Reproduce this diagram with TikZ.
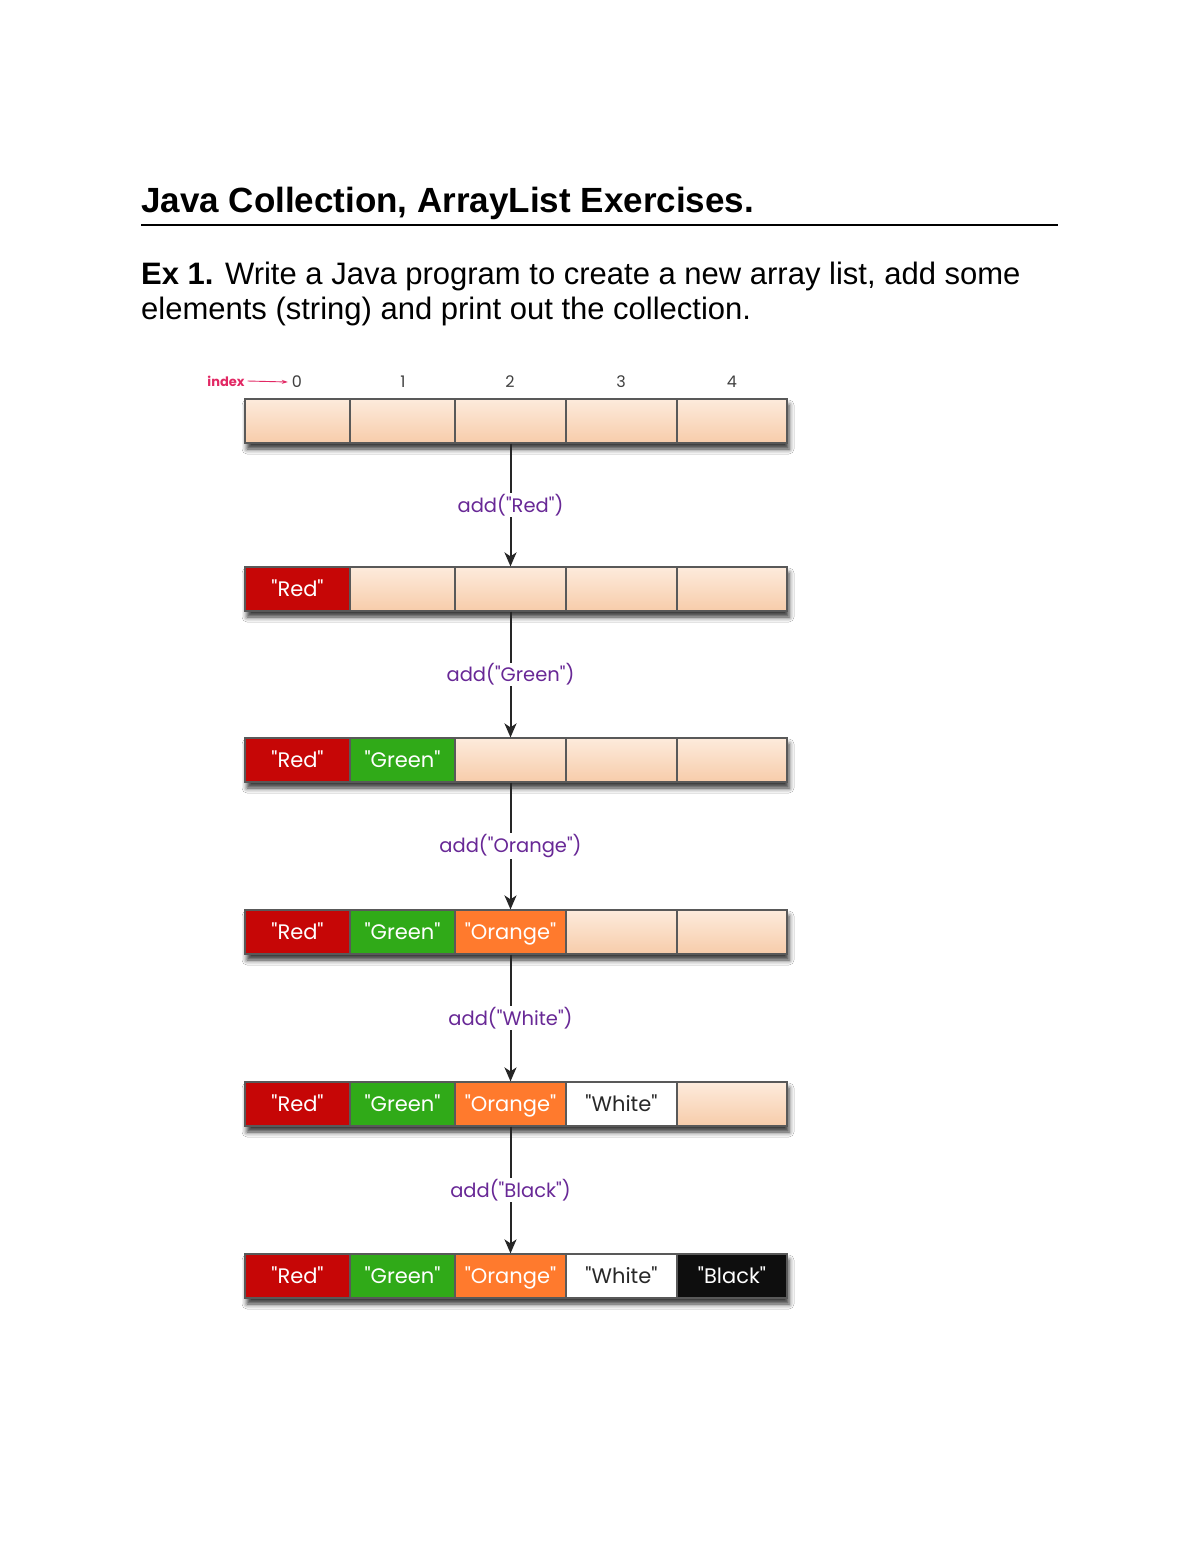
\documentclass[tikz,border=0pt]{standalone}
\usepackage{fontspec}
\setmainfont{Liberation Sans}
\newfontfamily\diag{Poppins}
\usetikzlibrary{arrows.meta,shadows.blur}
\definecolor{cellred}{RGB}{198,6,6}
\definecolor{cellgreen}{RGB}{48,170,24}
\definecolor{cellorange}{RGB}{255,122,45}
\definecolor{cellwhite}{RGB}{255,255,255}
\definecolor{cellblack}{RGB}{14,14,14}
\definecolor{creamtop}{RGB}{253,235,220}
\definecolor{creambot}{RGB}{247,204,170}
\definecolor{lblpurple}{RGB}{104,40,150}
\definecolor{idxpink}{RGB}{226,40,100}
\definecolor{wtxt}{RGB}{40,40,40}
\begin{document}
\begin{tikzpicture}[x=1pt,y=-1pt,
  txt/.style={inner sep=0pt,anchor=base west},
  cell/.style={draw=black!65,line width=1.2pt,minimum height=44pt,inner sep=0pt,
    text height=17pt,text depth=2pt,
    font=\diag\fontsize{21}{24}\selectfont},
  conn/.style={draw=black!85,line width=2pt,-{Stealth[length=14pt,width=12pt,inset=4pt]}},
  lbl/.style={fill=white,inner sep=1pt,text=lblpurple,font=\diag\fontsize{19.5}{22}\selectfont},
  idx/.style={inner sep=0pt,text=black!75,font=\diag\fontsize{16}{18}\selectfont},
  rowshadow/.style={blur shadow={shadow xshift=2pt,shadow yshift=-6pt,shadow blur radius=5pt,shadow opacity=80}}
]
\useasboundingbox[fill=white] (0,0) rectangle (1200,1553);

% title
\node[txt,font=\bfseries\fontsize{35}{40}\selectfont] (title) at (141,212) {Java Collection, ArrayList Exercises.};
\coordinate (ruleL) at (141,225);
\coordinate (ruleR) at (1058,225);
\draw[line width=2.6pt] (ruleL) -- (ruleR);
\node[txt,font=\fontsize{31}{35}\selectfont] (line1) at (141,284) {\textbf{Ex 1.} Write a Java program to create a new array list, add some};
\node[txt,font=\fontsize{31}{35}\selectfont] (line2) at (141,319) {elements (string) and print out the collection.};

% index labels
\foreach \k/\x in {0/297,1/403,2/510,3/621,4/732}
  \node[idx] (idx\k) at (\x,382) {\k};
\node[inner sep=0pt,text=idxpink,font=\diag\bfseries\fontsize{13}{15}\selectfont] (index) at (226,381) {index};
\draw[idxpink,line width=0.9pt,-{Stealth[length=6pt,width=4pt]}] (index.east) ++(3,0) -- ([xshift=-4pt]idx0.west);

% rows
\foreach \i/\yc in {1/421,2/589,3/760,4/932,5/1104,6/1276} {
  \path[rowshadow,fill=white] (245,\yc-22) rectangle (787,\yc+22);
  \foreach \j/\xc/\w/\col/\txt/\tc in {1/297.5/105/cellred/"Red"/white,
                                       2/402.5/105/cellgreen/"Green"/white,
                                       3/510.5/111/cellorange/"Orange"/white,
                                       4/621.5/111/cellwhite/"White"/wtxt,
                                       5/732/110/cellblack/"Black"/white} {
    \ifnum\j<\i
      \node[cell,fill=\col,text=\tc,minimum width=\w pt] (r\i c\j) at (\xc,\yc) {\txt};
    \else
      \node[cell,top color=creamtop,bottom color=creambot,minimum width=\w pt] (r\i c\j) at (\xc,\yc) {};
    \fi
  }
}

% connectors
\draw[conn] (r1c3.south) -- node[lbl] (l1) {add("Red")} (r2c3.north);
\draw[conn] (r2c3.south) -- node[lbl] (l2) {add("Green")} (r3c3.north);
\draw[conn] (r3c3.south) -- node[lbl] (l3) {add("Orange")} (r4c3.north);
\draw[conn] (r4c3.south) -- node[lbl] (l4) {add("White")} (r5c3.north);
\draw[conn] (r5c3.south) -- node[lbl] (l5) {add("Black")} (r6c3.north);
\end{tikzpicture}
\end{document}
